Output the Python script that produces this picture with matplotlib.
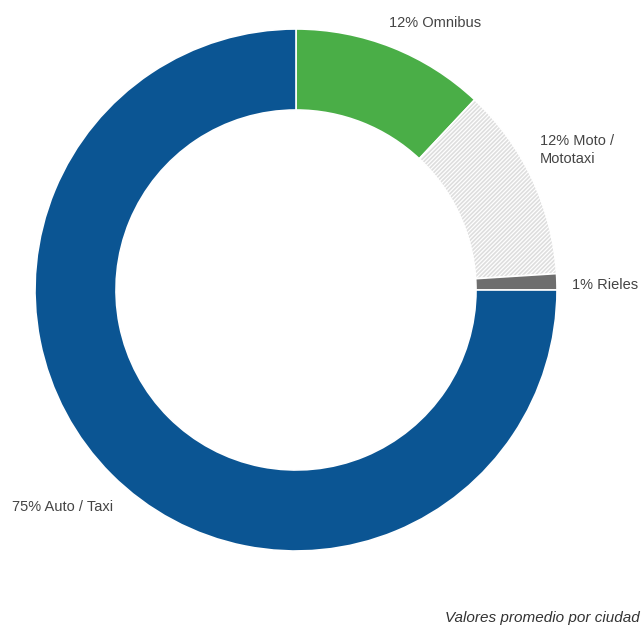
import matplotlib.pyplot as plt

modes = ['Omnibus', 'Moto /\nMototaxi', 'Rieles', 'Auto / Taxi']
shares = [12, 12, 1, 75]
colors = ['#4aae47', '#dedede', '#6e6e6e', '#0b5593']

plt.rcParams['font.family'] = ['Liberation Sans', 'DejaVu Sans']
plt.rcParams['hatch.color'] = '#6a6a6a'
plt.rcParams['hatch.linewidth'] = 0.9

fig = plt.figure(figsize=(6.43, 6.28), dpi=100)
ax = fig.add_axes([0, 0, 1, 1])

wedges, _ = ax.pie(shares, colors=colors, startangle=90, counterclock=False,
                   center=(296, 338), radius=261, frame=True,
                   wedgeprops=dict(width=81, edgecolor='white', linewidth=1.2))
wedges[1].set_hatch('////////')
ax.set_xlim(0, 643)
ax.set_ylim(0, 628)
ax.set_aspect('equal')
ax.axis('off')

txt = dict(color='#444444', fontsize=10.5)
ax.text(435, 605, f'{shares[0]}% {modes[0]}', ha='center', va='center', **txt)
ax.text(540, 478, f'{shares[1]}% {modes[1]}', ha='left', va='center', linespacing=1.45, **txt)
ax.text(572, 343, f'{shares[2]}% {modes[2]}', ha='left', va='center', **txt)
ax.text(12, 121, f'{shares[3]}% {modes[3]}', ha='left', va='center', **txt)
ax.text(640, 10, 'Valores promedio por ciudad', ha='right', va='center',
        style='italic', color='#333333', fontsize=11)

fig.savefig('out.png', dpi=100)
